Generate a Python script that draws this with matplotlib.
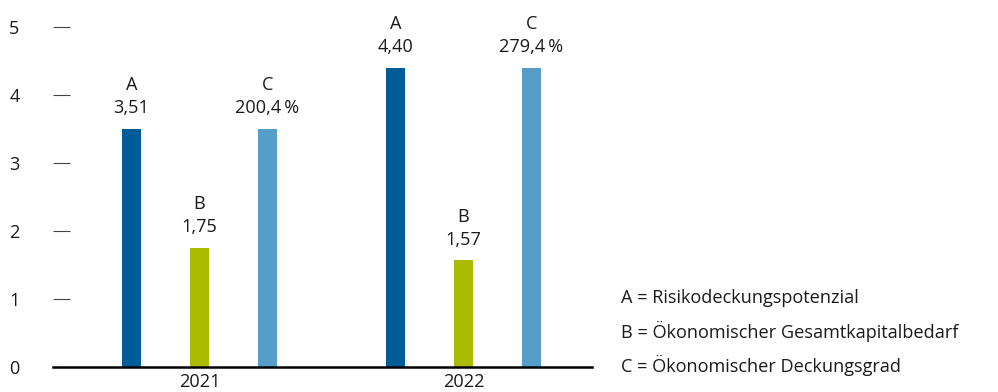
import matplotlib.pyplot as plt
import numpy as np

# Werte aus dem Diagramm
jahre = ["2021", "2022"]
risikodeckung = [3.51, 4.40]          # A
gesamtkapital = [1.75, 1.57]          # B
deckungsgrad = [200.4, 279.4]         # C in %
deckungsgrad_hoehe = [3.51, 4.40]     # C Balkenhoehe wie A
legende = ["A = Risikodeckungspotenzial",
           "B = Ökonomischer Gesamtkapitalbedarf",
           "C = Ökonomischer Deckungsgrad"]

farbe_a = "#005c98"
farbe_b = "#a9ba00"
farbe_c = "#569ec8"
text_farbe = "#1a1a1a"
gr = 13.1

plt.rcParams["font.family"] = ["Open Sans", "DejaVu Sans"]

W, H = 998, 392
fig = plt.figure(figsize=(W / 100, H / 100), dpi=100)
ax_left, ax_right = 53, 592
ax_bottom, ax_top = 367, 7
ax = fig.add_axes([ax_left / W, 1 - ax_bottom / H,
                   (ax_right - ax_left) / W, (ax_bottom - ax_top) / H])

x = np.arange(len(jahre))
off = 0.2576
breite = 0.072

ax.bar(x - off, risikodeckung, breite, color=farbe_a)
ax.bar(x, gesamtkapital, breite, color=farbe_b)
ax.bar(x + off, deckungsgrad_hoehe, breite, color=farbe_c)

def fmt(v, nach=2):
    return f"{v:.{nach}f}".replace(".", ",")

for i in range(len(jahre)):
    for xs, h, buchst, wert in [
        (x[i] - off, risikodeckung[i], "A", fmt(risikodeckung[i])),
        (x[i], gesamtkapital[i], "B", fmt(gesamtkapital[i])),
        (x[i] + off, deckungsgrad_hoehe[i], "C", fmt(deckungsgrad[i], 1) + "\u2009%"),
    ]:
        ax.annotate(buchst + "\n" + wert, (xs, h), xytext=(0, 8.5),
                    textcoords="offset points", ha="center", va="bottom",
                    fontsize=gr, color=text_farbe, linespacing=1.35)

ax.set_xlim(-0.555, 1.487)
ax.set_ylim(0, 5.3)
ax.set_xticks(x)
ax.set_xticklabels(jahre)
ax.set_yticks([0, 1, 2, 3, 4, 5])
ax.tick_params(axis="x", length=0, pad=4.5, labelsize=gr, labelcolor=text_farbe)
ax.tick_params(axis="y", direction="in", length=12.5, width=0.8,
               color="#444444", pad=24, labelsize=gr, labelcolor=text_farbe)

for s in ["top", "right", "left"]:
    ax.spines[s].set_visible(False)
ax.spines["bottom"].set_linewidth(1.8)
ax.spines["bottom"].set_color("black")

for j, t in enumerate(legende):
    fig.text(621 / W, 1 - [298, 331, 365][j] / H, t, fontsize=gr,
             color=text_farbe, va="center", ha="left")

fig.savefig("out.png", dpi=100)
